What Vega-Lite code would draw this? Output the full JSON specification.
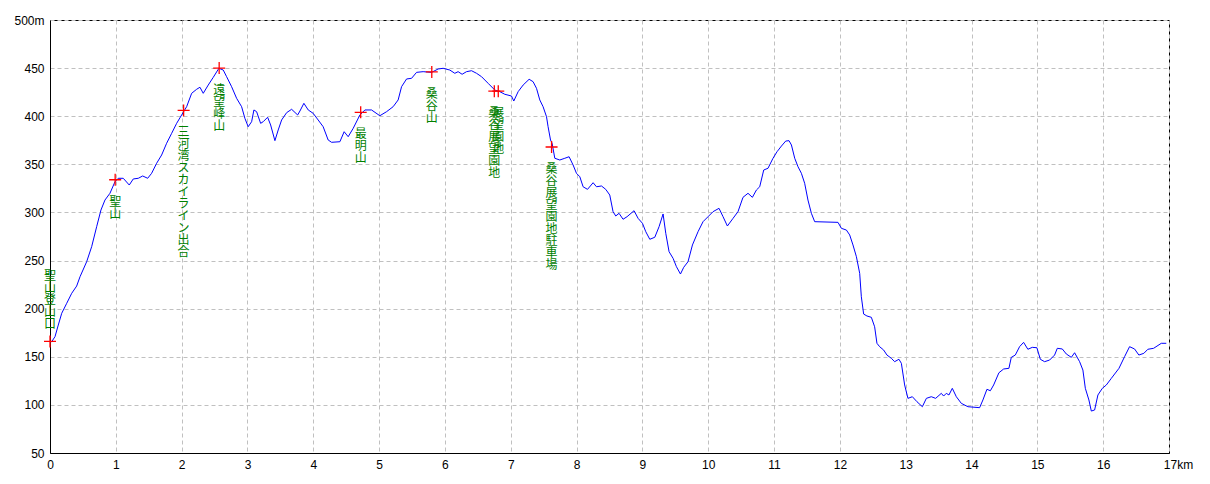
{
  "$schema": "https://vega.github.io/schema/vega-lite/v6.json",
  "width": 1119,
  "height": 433,
  "autosize": {"type": "none"},
  "padding": {"left": 50, "top": 20, "right": 41, "bottom": 31},
  "background": "white",
  "config": {
    "view": {"stroke": "black", "strokeWidth": 1},
    "axis": {
      "grid": true, "gridColor": "#c0c0c0", "gridDash": [4, 3], "gridWidth": 1,
      "ticks": false, "tickSize": 0, "domainColor": "black", "domainWidth": 1,
      "labelColor": "black", "labelFont": "Liberation Sans", "labelFontSize": 12,
      "labelFlush": false, "labelOverlap": false,
      "title": null
    }
  },
  "datasets": {
    "profile": [
      {"km":0,"elev":165.7},{"km":0.026,"elev":165.7},{"km":0.076,"elev":170.9},{"km":0.126,"elev":183},{"km":0.178,"elev":195.2},{"km":0.254,"elev":205.6},{"km":0.33,"elev":216},{"km":0.405,"elev":223.5},{"km":0.456,"elev":233.2},{"km":0.557,"elev":248.8},{"km":0.633,"elev":264.4},{"km":0.709,"elev":285.2},{"km":0.774,"elev":302.5},{"km":0.835,"elev":312.9},{"km":0.911,"elev":319.9},{"km":0.987,"elev":331.9},{"km":1.037,"elev":335.5},{"km":1.113,"elev":335.5},{"km":1.204,"elev":328.5},{"km":1.265,"elev":334.8},{"km":1.341,"elev":335.5},{"km":1.408,"elev":337.9},{"km":1.484,"elev":335.5},{"km":1.544,"elev":340.7},{"km":1.62,"elev":351.1},{"km":1.696,"elev":359.7},{"km":1.772,"elev":371.9},{"km":1.848,"elev":382.2},{"km":1.924,"elev":392.6},{"km":2.0,"elev":401.3},{"km":2.076,"elev":409.9},{"km":2.152,"elev":423.8},{"km":2.228,"elev":428},{"km":2.278,"elev":430.1},{"km":2.328,"elev":423.8},{"km":2.404,"elev":432.4},{"km":2.48,"elev":440.4},{"km":2.566,"elev":449.8},{"km":2.632,"elev":448},{"km":2.683,"elev":441.1},{"km":2.759,"elev":430.7},{"km":2.835,"elev":418.6},{"km":2.911,"elev":409.9},{"km":2.961,"elev":397.8},{"km":3.011,"elev":389.1},{"km":3.063,"elev":394.3},{"km":3.098,"elev":406.5},{"km":3.139,"elev":404.7},{"km":3.2,"elev":392.6},{"km":3.239,"elev":394.3},{"km":3.306,"elev":398.9},{"km":3.352,"elev":390.9},{"km":3.417,"elev":374.6},{"km":3.467,"elev":385.7},{"km":3.519,"elev":396.1},{"km":3.595,"elev":403.7},{"km":3.671,"elev":407.2},{"km":3.762,"elev":401.3},{"km":3.797,"elev":405.4},{"km":3.857,"elev":413.4},{"km":3.923,"elev":406.5},{"km":3.998,"elev":403},{"km":4.074,"elev":396.1},{"km":4.15,"elev":389.1},{"km":4.226,"elev":375.3},{"km":4.278,"elev":372.9},{"km":4.404,"elev":373.5},{"km":4.469,"elev":383.9},{"km":4.53,"elev":378.7},{"km":4.606,"elev":387.4},{"km":4.708,"elev":401.3},{"km":4.784,"elev":406.5},{"km":4.885,"elev":406.5},{"km":5.011,"elev":400.5},{"km":5.113,"elev":404.7},{"km":5.213,"elev":409.9},{"km":5.289,"elev":416.9},{"km":5.341,"elev":430.7},{"km":5.417,"elev":438.7},{"km":5.493,"elev":439.4},{"km":5.569,"elev":445.6},{"km":5.669,"elev":446.3},{"km":5.797,"elev":445.6},{"km":5.897,"elev":449.1},{"km":5.973,"elev":449.8},{"km":6.074,"elev":448},{"km":6.15,"elev":444.6},{"km":6.2,"elev":446.3},{"km":6.261,"elev":443.6},{"km":6.328,"elev":446.3},{"km":6.404,"elev":447.3},{"km":6.48,"elev":444.6},{"km":6.556,"elev":441.1},{"km":6.656,"elev":434.2},{"km":6.758,"elev":427.2},{"km":6.834,"elev":425.5},{"km":6.91,"elev":422.8},{"km":7.011,"elev":421},{"km":7.046,"elev":415.8},{"km":7.112,"elev":425.5},{"km":7.188,"elev":432.4},{"km":7.279,"elev":438.4},{"km":7.339,"elev":435.9},{"km":7.391,"elev":429},{"km":7.441,"elev":416.9},{"km":7.491,"elev":409.9},{"km":7.543,"elev":399.5},{"km":7.567,"elev":389.1},{"km":7.604,"elev":375.3},{"km":7.628,"elev":371.9},{"km":7.669,"elev":356.3},{"km":7.745,"elev":354.5},{"km":7.821,"elev":356.3},{"km":7.886,"elev":357.9},{"km":7.947,"elev":349.3},{"km":7.998,"elev":340.7},{"km":8.049,"elev":337.1},{"km":8.099,"elev":326.7},{"km":8.166,"elev":324},{"km":8.251,"elev":330.9},{"km":8.302,"elev":326.7},{"km":8.378,"elev":327.5},{"km":8.443,"elev":324},{"km":8.504,"elev":318.1},{"km":8.554,"elev":300.8},{"km":8.595,"elev":296.3},{"km":8.645,"elev":299.1},{"km":8.706,"elev":292.9},{"km":8.767,"elev":295.6},{"km":8.873,"elev":301.8},{"km":8.934,"elev":293.9},{"km":9.001,"elev":288.7},{"km":9.051,"elev":280},{"km":9.112,"elev":272.1},{"km":9.188,"elev":274.2},{"km":9.253,"elev":285.2},{"km":9.314,"elev":298.4},{"km":9.355,"elev":278.3},{"km":9.405,"elev":259.2},{"km":9.466,"elev":252.3},{"km":9.517,"elev":243.6},{"km":9.578,"elev":236},{"km":9.628,"elev":243},{"km":9.693,"elev":248.8},{"km":9.76,"elev":266.2},{"km":9.845,"elev":280},{"km":9.921,"elev":290.4},{"km":9.997,"elev":295.6},{"km":10.073,"elev":300.8},{"km":10.164,"elev":304.3},{"km":10.225,"elev":295.6},{"km":10.291,"elev":285.9},{"km":10.377,"elev":293.9},{"km":10.452,"elev":300.8},{"km":10.528,"elev":315.7},{"km":10.604,"elev":319.9},{"km":10.671,"elev":315.7},{"km":10.732,"elev":323.3},{"km":10.782,"elev":326.7},{"km":10.843,"elev":344.1},{"km":10.908,"elev":345.9},{"km":10.984,"elev":356.3},{"km":11.045,"elev":363.1},{"km":11.112,"elev":369},{"km":11.177,"elev":374.2},{"km":11.227,"elev":374.6},{"km":11.264,"elev":370.1},{"km":11.314,"elev":356.3},{"km":11.364,"elev":347.5},{"km":11.415,"elev":340.7},{"km":11.465,"elev":330.3},{"km":11.515,"elev":312.9},{"km":11.567,"elev":299.1},{"km":11.617,"elev":290.4},{"km":11.971,"elev":289.7},{"km":12.023,"elev":283.5},{"km":12.099,"elev":281.7},{"km":12.149,"elev":276.6},{"km":12.199,"elev":266.2},{"km":12.251,"elev":254},{"km":12.301,"elev":236.7},{"km":12.326,"elev":212.4},{"km":12.361,"elev":194.4},{"km":12.411,"elev":192.4},{"km":12.478,"elev":191},{"km":12.528,"elev":181.2},{"km":12.563,"elev":164},{"km":12.604,"elev":160.5},{"km":12.665,"elev":157},{"km":12.715,"elev":151.8},{"km":12.782,"elev":148.4},{"km":12.832,"elev":144.9},{"km":12.897,"elev":147.4},{"km":12.934,"elev":143.2},{"km":12.984,"elev":120.7},{"km":13.034,"elev":106.8},{"km":13.101,"elev":108.5},{"km":13.171,"elev":103.3},{"km":13.253,"elev":98.1},{"km":13.314,"elev":106.8},{"km":13.389,"elev":108.5},{"km":13.455,"elev":106.8},{"km":13.541,"elev":112},{"km":13.576,"elev":109.2},{"km":13.617,"elev":112},{"km":13.657,"elev":110.3},{"km":13.708,"elev":117.2},{"km":13.769,"elev":108.5},{"km":13.845,"elev":101.6},{"km":13.945,"elev":98.1},{"km":14.123,"elev":97.1},{"km":14.173,"elev":105.1},{"km":14.234,"elev":116.2},{"km":14.286,"elev":114.7},{"km":14.336,"elev":120.7},{"km":14.416,"elev":133.4},{"km":14.488,"elev":137.3},{"km":14.568,"elev":138},{"km":14.604,"elev":149.4},{"km":14.665,"elev":151.8},{"km":14.73,"elev":160.5},{"km":14.791,"elev":165},{"km":14.856,"elev":157.8},{"km":14.923,"elev":159.8},{"km":14.993,"elev":159.4},{"km":15.045,"elev":147.4},{"km":15.11,"elev":144.9},{"km":15.186,"elev":146.6},{"km":15.262,"elev":151.8},{"km":15.303,"elev":158.8},{"km":15.379,"elev":158.1},{"km":15.44,"elev":152.9},{"km":15.516,"elev":149.4},{"km":15.566,"elev":154.2},{"km":15.642,"elev":144.9},{"km":15.692,"elev":136.2},{"km":15.729,"elev":117.2},{"km":15.783,"elev":105.1},{"km":15.82,"elev":93.6},{"km":15.87,"elev":94.7},{"km":15.92,"elev":110.3},{"km":15.987,"elev":117.2},{"km":16.048,"elev":120.7},{"km":16.124,"elev":127.6},{"km":16.24,"elev":138},{"km":16.325,"elev":150.1},{"km":16.401,"elev":160.5},{"km":16.477,"elev":158.1},{"km":16.542,"elev":151.8},{"km":16.618,"elev":153.6},{"km":16.679,"elev":157.8},{"km":16.766,"elev":158.8},{"km":16.883,"elev":164},{"km":16.959,"elev":164}
    ],
    "points": [
      {"km":0,"elev":166,"label":"聖山登山口"},
      {"km":0.99,"elev":334,"label":"聖山"},
      {"km":2.03,"elev":406,"label":"三河湾スカイライン出合"},
      {"km":2.57,"elev":450,"label":"遠望峰山"},
      {"km":4.72,"elev":404,"label":"最明山"},
      {"km":5.8,"elev":446,"label":"桑谷山"},
      {"km":6.75,"elev":426,"label":"桑谷展望園地"},
      {"km":6.81,"elev":426,"label":"展望園地"},
      {"km":7.62,"elev":368,"label":"桑谷展望園地駐車場"}
    ]
  },
  "encoding": {
    "x": {
      "field": "km", "type": "quantitative",
      "scale": {"domain": [0, 17], "nice": false, "zero": false},
      "axis": {
        "values": [0,1,2,3,4,5,6,7,8,9,10,11,12,13,14,15,16,17],
        "labelExpr": "datum.value == 17 ? '17km' : datum.label",
        "labelPadding": 6,
        "labelOffset": {"condition": {"test": "datum.value == 17", "value": 9}, "value": 0}
      }
    },
    "y": {
      "field": "elev", "type": "quantitative",
      "scale": {"domain": [50, 500], "nice": false, "zero": false},
      "axis": {
        "values": [50,100,150,200,250,300,350,400,450,500],
        "labelExpr": "datum.value == 500 ? '500m' : datum.label",
        "labelPadding": 6
      }
    }
  },
  "layer": [
    {
      "data": {"name": "profile"},
      "mark": {"type": "line", "color": "#0000ff", "strokeWidth": 1, "clip": true}
    },
    {
      "data": {"name": "points"},
      "mark": {"type": "point", "shape": "M-1,0L1,0M0,-1L0,1", "size": 144, "filled": false, "stroke": "#ff0000", "strokeWidth": 1.3, "opacity": 1}
    },
    {
      "data": {"name": "points"},
      "transform": [
        {"filter": "datum.km > 0"},
        {"calculate": "join(split(datum.label, ''), '\\n')", "as": "vlabel"}
      ],
      "mark": {"type": "text", "color": "#008000", "font": "Noto Sans CJK JP", "fontSize": 12, "lineHeight": 12, "lineBreak": "\n", "align": "center", "baseline": "top", "dy": 17},
      "encoding": {"text": {"field": "vlabel"}}
    },
    {
      "data": {"name": "points"},
      "transform": [
        {"filter": "datum.km == 0"},
        {"calculate": "join(split(datum.label, ''), '\\n')", "as": "vlabel"}
      ],
      "mark": {"type": "text", "color": "#008000", "font": "Noto Sans CJK JP", "fontSize": 12, "lineHeight": 12, "lineBreak": "\n", "align": "center", "baseline": "top", "dy": -70},
      "encoding": {"text": {"field": "vlabel"}}
    }
  ]
}
